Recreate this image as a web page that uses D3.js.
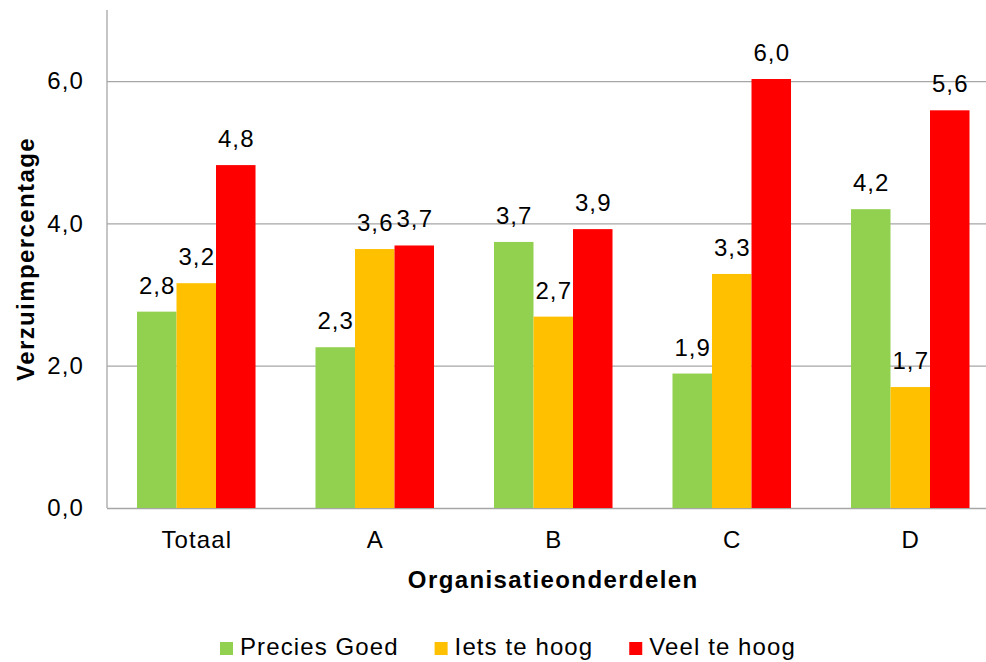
<!DOCTYPE html>
<html>
<head>
<meta charset="utf-8">
<script src="https://cdn.jsdelivr.net/npm/d3@7"></script>
<style>
  body { margin: 0; background: #fff; }
  svg text { font-family: "Liberation Sans", Arial, sans-serif; fill: #000; letter-spacing: 1.1px; }
  svg text.title { letter-spacing: 1.4px; }
</style>
</head>
<body>
<svg width="986" height="662"></svg>
<script>
const categories = ["Totaal", "A", "B", "C", "D"];
const seriesNames = ["Precies Goed", "Iets te hoog", "Veel te hoog"];
const seriesColors = ["#92D050", "#FFC000", "#FF0000"];
const preciesGoed = [2.76, 2.26, 3.74, 1.89, 4.20];
const ietsTeHoog = [3.16, 3.64, 2.69, 3.29, 1.70];
const veelTeHoog = [4.82, 3.69, 3.92, 6.03, 5.59];
const yTicks = [0, 2, 4, 6];

const series = [preciesGoed, ietsTeHoog, veelTeHoog];

const svg = d3.select("svg");
const plotLeft = 107, plotRight = 999.5, plotTop = 10, plotBottom = 508;

const nl = d3.formatLocale({decimal: ",", thousands: ".", grouping: [3], currency: ["€", ""]});
const fmt = nl.format(".1f");

const x0 = d3.scaleBand().domain(categories).range([plotLeft, plotRight]).paddingInner(0.336).paddingOuter(0.168);
const x1 = d3.scaleBand().domain(d3.range(series.length)).range([0, x0.bandwidth()]);
const y = d3.scaleLinear().domain([0, 7]).range([plotBottom, plotTop]);

// gridlines + y labels
const yAxis = svg.append("g")
  .attr("transform", `translate(${plotLeft},0)`)
  .call(d3.axisLeft(y).tickValues(yTicks).tickFormat(fmt).tickSize(-(986 - plotLeft)).tickPadding(23));
yAxis.select(".domain").remove();
yAxis.selectAll(".tick line").attr("stroke", "#a6a6a6").attr("stroke-width", 1.3);
yAxis.selectAll(".tick text").attr("font-size", 24).attr("font-family", "Liberation Sans, Arial, sans-serif").attr("fill", "#000");

// y axis line
svg.append("line").attr("x1", plotLeft).attr("x2", plotLeft).attr("y1", y(7)).attr("y2", y(0))
  .attr("stroke", "#a6a6a6").attr("stroke-width", 1.3);

// bars
const groups = svg.append("g").selectAll("g").data(categories).join("g")
  .attr("transform", d => `translate(${x0(d)},0)`);

groups.selectAll("rect").data((d, i) => series.map((s, k) => ({k: k, v: s[i]}))).join("rect")
  .attr("x", d => x1(d.k))
  .attr("width", x1.bandwidth())
  .attr("y", d => y(d.v))
  .attr("height", d => y(0) - y(d.v))
  .attr("fill", d => seriesColors[d.k]);

groups.selectAll("text").data((d, i) => series.map((s, k) => ({k: k, v: s[i]}))).join("text")
  .attr("x", d => x1(d.k) + x1.bandwidth() / 2 + 0.5)
  .attr("y", d => y(d.v) - 18)
  .attr("text-anchor", "middle")
  .attr("font-size", 24)
  .text(d => fmt(d.v));

// category labels
svg.append("g").selectAll("text").data(categories).join("text")
  .attr("x", d => x0(d) + x0.bandwidth() / 2 + 0.5)
  .attr("y", 548)
  .attr("text-anchor", "middle")
  .attr("font-size", 24)
  .text(d => d);

// axis titles
svg.append("text").attr("class", "title")
  .attr("x", (plotLeft + plotRight) / 2).attr("y", 588)
  .attr("text-anchor", "middle").attr("font-size", 24).attr("font-weight", "bold")
  .text("Organisatieonderdelen");

svg.append("text").attr("class", "title")
  .attr("transform", `translate(34,${(plotTop + plotBottom) / 2}) rotate(-90)`)
  .attr("text-anchor", "middle").attr("font-size", 24).attr("font-weight", "bold")
  .text("Verzuimpercentage");

// legend
const legend = svg.append("g");
let lx = 220;
seriesNames.forEach((name, k) => {
  legend.append("rect").attr("x", lx).attr("y", 642).attr("width", 13).attr("height", 13).attr("fill", seriesColors[k]);
  const t = legend.append("text").attr("x", lx + 20).attr("y", 655).attr("font-size", 24).text(name);
  lx += 20 + t.node().getComputedTextLength() + 36;
});
</script>
</body>
</html>
